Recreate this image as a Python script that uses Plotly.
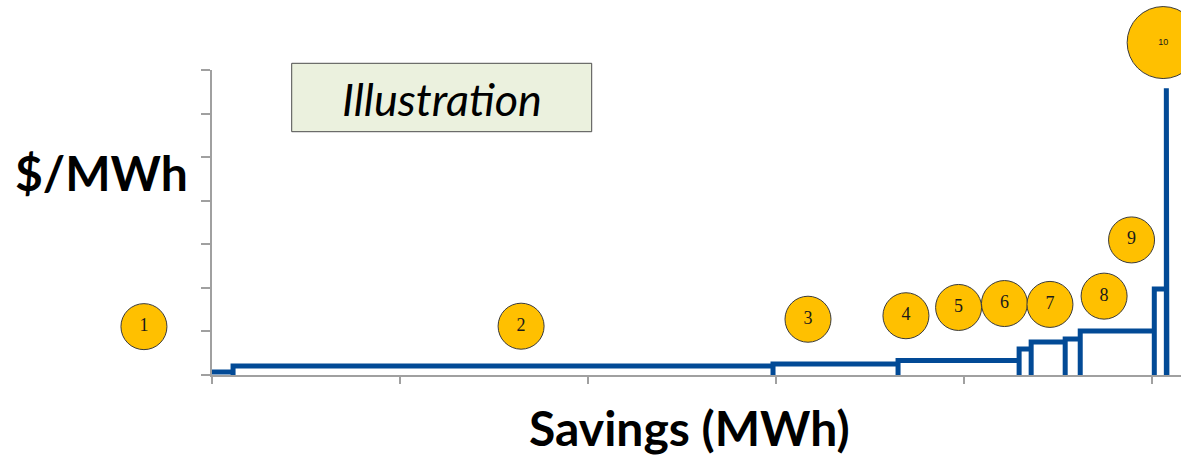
import plotly.graph_objects as go

# ---- data ----
measures = ["1", "2", "3", "4", "5", "6", "7", "8", "9", "10"]
savings = [11.2, 287.2, 66.5, 64.4, 6.4, 18.1, 8.0, 39.4, 6.4, 0.3]      # MWh per measure
costs = [0.69, 2.06, 2.52, 3.33, 5.96, 7.57, 8.26, 10.09, 19.72, 65.8]   # $/MWh per measure
label_x = [-36.2, 164.4, 317.0, 369.1, 397.1, 421.5, 445.7, 474.5, 489.1, 505.9]
label_y = [11.1, 11.2, 12.8, 13.6, 15.5, 16.4, 16.2, 18.1, 31.0, 76.3]
label_size = [46, 46, 46, 46, 46, 46, 46, 46, 46, 72]

# ---- layout geometry ----
W, H = 1181, 457
x_range = [0, 515.4]
y_range = [0, 70]
x_dom = [212 / W, 1.0]
y_dom = [82 / H, 387 / H]

# full-figure overlay axes using the same scale as the main axes
x_scale = (x_range[1] - x_range[0]) / (x_dom[1] - x_dom[0])
y_scale = (y_range[1] - y_range[0]) / (y_dom[1] - y_dom[0])
x2_range = [x_range[0] - x_dom[0] * x_scale, x_range[1] + (1 - x_dom[1]) * x_scale]
y2_range = [y_range[0] - y_dom[0] * y_scale, y_range[1] + (1 - y_dom[1]) * y_scale]

# ---- build the supply-curve outline from the data ----
xs, ys = [0.0], [costs[0]]
left = 0.0
for i in range(len(savings)):
    right = left + savings[i]
    xs += [right, right]
    ys += [costs[i], 0.0]
    if i + 1 < len(savings):
        xs.append(right)
        ys.append(costs[i + 1])
    left = right

fig = go.Figure()
fig.add_trace(go.Scatter(
    x=xs, y=ys, mode="lines", xaxis="x", yaxis="y",
    line=dict(color="#024A96", width=5),
    hoverinfo="skip", showlegend=False, cliponaxis=False,
))
fig.add_trace(go.Scatter(
    x=label_x, y=label_y, mode="markers+text", xaxis="x2", yaxis="y2",
    text=measures, textposition="middle center",
    marker=dict(size=label_size, color="#FFC000", opacity=1,
                line=dict(color="#3A3A3A", width=1)),
    textfont=dict(
        family=["Liberation Serif"] * 9 + ["Liberation Sans"],
        size=[18] * 9 + [9],
        color="#1A1A1A",
    ),
    showlegend=False, cliponaxis=False, hoverinfo="skip",
))

axis_color = "#A0A0A0"
fig.update_layout(
    width=W, height=H,
    margin=dict(l=0, r=0, t=0, b=0),
    paper_bgcolor="white", plot_bgcolor="rgba(0,0,0,0)",
    xaxis=dict(domain=x_dom, anchor="y", range=x_range, dtick=100, tick0=0,
               showgrid=False, zeroline=False,
               showline=True, linecolor=axis_color, linewidth=2,
               ticks="outside", ticklen=7, tickwidth=1.5, tickcolor=axis_color,
               showticklabels=False),
    yaxis=dict(domain=y_dom, anchor="x", range=y_range, dtick=10, tick0=0,
               showgrid=False, zeroline=False,
               showline=True, linecolor=axis_color, linewidth=2,
               ticks="outside", ticklen=9, tickwidth=1.5, tickcolor=axis_color,
               showticklabels=False),
    xaxis2=dict(domain=[0, 1], anchor="y2", range=x2_range, visible=False),
    yaxis2=dict(domain=[0, 1], anchor="x2", range=y2_range, visible=False),
    shapes=[dict(type="rect", xref="paper", yref="paper",
                 x0=291.7 / W, x1=591.7 / W, y0=1 - 131.7 / H, y1=1 - 63.3 / H,
                 fillcolor="#EBF1DE", line=dict(color="#4D4D4D", width=1), layer="below")],
    annotations=[
        dict(text="<i>Illustration</i>", xref="paper", yref="paper", x=441.5 / W, y=1 - 99 / H,
             xanchor="center", yanchor="middle", showarrow=False,
             font=dict(family="Lato", size=45, color="#000000")),
        dict(text="<b>$/MWh</b>", xref="paper", yref="paper", x=101 / W, y=1 - 172 / H,
             xanchor="center", yanchor="middle", showarrow=False,
             font=dict(family="Lato", size=48, color="#000000")),
        dict(text="<b>Savings (MWh)</b>", xref="paper", yref="paper", x=690 / W, y=1 - 427 / H,
             xanchor="center", yanchor="middle", showarrow=False,
             font=dict(family="Lato", size=48, color="#000000")),
    ],
)

fig.write_html("out.html")
